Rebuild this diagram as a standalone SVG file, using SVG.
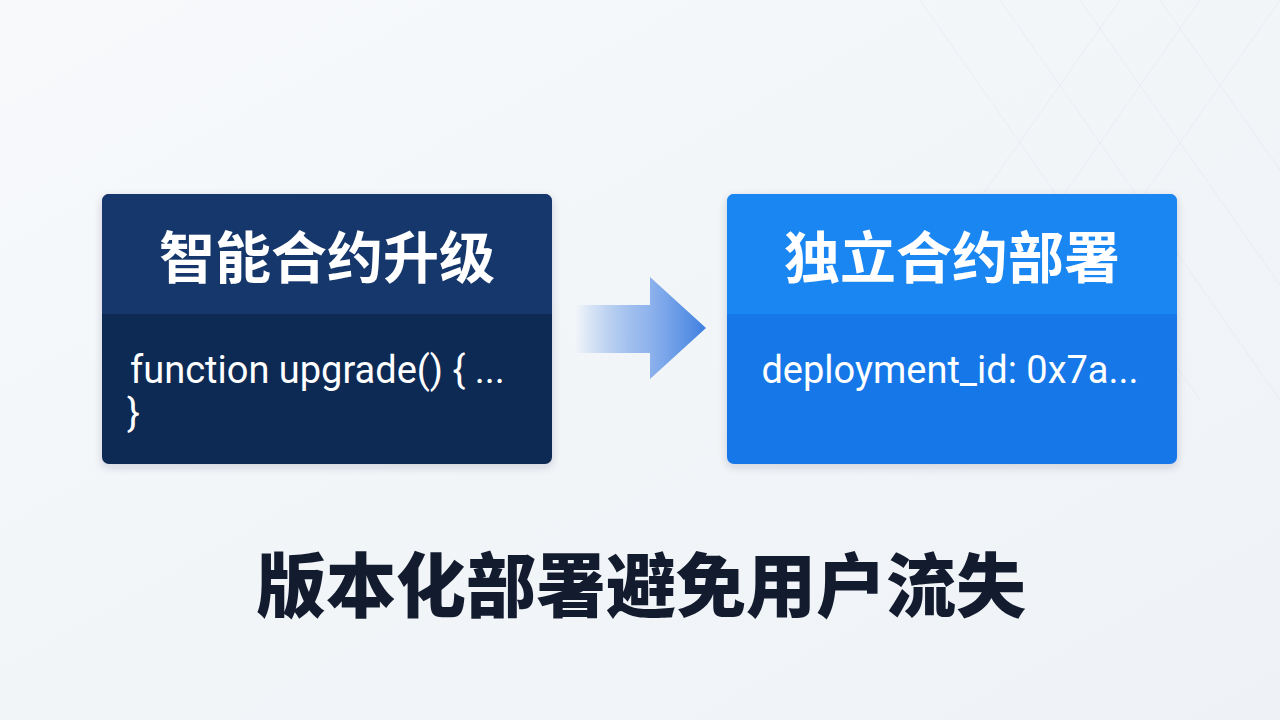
<svg xmlns="http://www.w3.org/2000/svg" width="1280" height="720" viewBox="0 0 1280 720">
<defs>
<linearGradient id="bg" x1="0" y1="0" x2="1" y2="1">
<stop offset="0" stop-color="#f7f9fb"/>
<stop offset="1" stop-color="#eef2f6"/>
</linearGradient>
<linearGradient id="arr" x1="575" y1="0" x2="706" y2="0" gradientUnits="userSpaceOnUse">
<stop offset="0" stop-color="#4a86e0" stop-opacity="0"/>
<stop offset="0.55" stop-color="#78a4ea" stop-opacity="0.8"/>
<stop offset="1" stop-color="#3f7fe0"/>
</linearGradient>
<clipPath id="cl"><rect x="102" y="194" width="450" height="270" rx="7"/></clipPath>
<clipPath id="cr"><rect x="727" y="194" width="450" height="270" rx="7"/></clipPath>
<filter id="sh" x="-10%" y="-10%" width="120%" height="130%"><feDropShadow dx="0" dy="3" stdDeviation="4" flood-color="#1c2b44" flood-opacity="0.18"/></filter>
</defs>
<style>
.title{font-family:"Noto Sans CJK SC","Noto Sans",sans-serif;font-weight:700;font-size:56px;fill:#ffffff;text-anchor:middle}
.code{font-family:Roboto,"Liberation Sans",sans-serif;font-size:38px;fill:#ffffff}
.cap{font-family:"Noto Sans CJK SC","Noto Sans",sans-serif;font-weight:900;font-size:70px;fill:#131b2e;text-anchor:middle}
</style>
<rect width="1280" height="720" fill="url(#bg)"/>
<g stroke="#e3e8ee" stroke-width="1" fill="none" opacity="0.6">
<path d="M1000 0 L1280 400 M1080 0 L1280 285 M1160 0 L1280 170 M920 0 L1200 400 M1280 0 L1000 400 M1200 0 L920 400 M1120 0 L880 340"/>
</g>
<g id="node-upgrade">
<g filter="url(#sh)"><rect x="102" y="194" width="450" height="270" rx="7" fill="#0f2a55"/></g>
<g clip-path="url(#cl)">
<rect x="102" y="194" width="450" height="120" fill="#15376c"/>
</g>
<text class="title" x="327" y="278">智能合约升级</text>
<text class="code" x="130" y="383">function upgrade() { ...</text>
<text class="code" x="127" y="426">}</text>
</g>
<g id="node-deploy">
<g filter="url(#sh)"><rect x="727" y="194" width="450" height="270" rx="7" fill="#1478e8"/></g>
<g clip-path="url(#cr)">
<rect x="727" y="194" width="450" height="120" fill="#1a86f2"/>
</g>
<text class="title" x="952" y="278">独立合约部署</text>
<text class="code" x="950" y="383" text-anchor="middle">deployment_id: 0x7a...</text>
</g>
<g id="connectors">
<path d="M575 305 L650 305 L650 277 L706 328 L650 379 L650 353 L575 353 Z" fill="url(#arr)"/>
</g>
<g id="caption">
<text class="cap" x="641" y="612">版本化部署避免用户流失</text>
</g>
</svg>
